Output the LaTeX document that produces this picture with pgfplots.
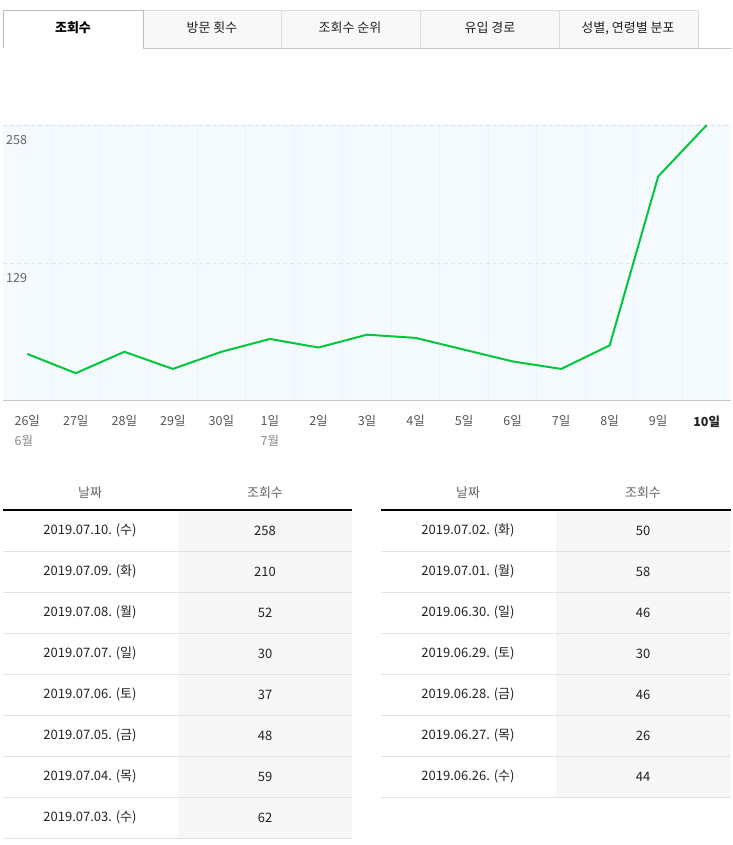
\documentclass[border=0pt]{standalone}
\usepackage{fontspec}
\setmainfont{Noto Sans CJK KR}
\usepackage{pgfplots}
\pgfplotsset{compat=1.18}
\definecolor{linegreen}{HTML}{00C73C}
\definecolor{bgblue}{HTML}{F5FAFE}
\definecolor{vgrid}{HTML}{EAF3FB}
\definecolor{hgrid}{HTML}{DCE6EE}
\definecolor{axisgray}{HTML}{C8C8C8}
\definecolor{tickgray}{HTML}{555555}
\definecolor{monthgray}{HTML}{888888}
\definecolor{tabgray}{HTML}{F8F8F8}
\definecolor{tabborder}{HTML}{DCDCDC}
\definecolor{cellgray}{HTML}{F7F7F7}
\definecolor{rowline}{HTML}{E3E3E3}
\definecolor{headgray}{HTML}{666666}
\definecolor{txt}{HTML}{222222}
\newcommand{\fs}[1]{\fontsize{#1}{20}\selectfont}
\begin{document}
\begin{tikzpicture}[x=1pt,y=1pt]
\useasboundingbox (0,0) rectangle (732,845);
% tabs
\begin{scope}[shift={(0,845)},y=-1pt]
\fill[tabgray] (143,10) rectangle (698,48);
\foreach \a/\b in {143/281,281/420,420/559,559/698}{
  \draw[tabborder] (\a,48) -- (\a,10) -- (\b,10) -- (\b,48);
}
\draw[axisgray] (143,48) -- (732,48);
\draw[axisgray!120] (3,48) -- (3,10) -- (143,10) -- (143,48);
\node[font=\fs{13}\bfseries, text=black] at (73,28) {조회수};
\node[font=\fs{13}, text=txt] at (212,28) {방문 횟수};
\node[font=\fs{13}, text=txt] at (350,28) {조회수 순위};
\node[font=\fs{13}, text=txt] at (490,28) {유입 경로};
\node[font=\fs{13}, text=txt] at (628,28) {성별, 연령별 분포};
% table headers
\foreach \x/\t in {90/날짜,265/조회수,468/날짜,643/조회수}{
  \node[font=\fs{13}, text=headgray] at (\x,493) {\t};
}
\fill[cellgray] (178,510) rectangle (352,838);
\fill[cellgray] (556,510) rectangle (731,797);
\draw[black, line width=2pt] (3,510) -- (352,510);
\draw[black, line width=2pt] (381,510) -- (731,510);
\foreach \i in {0,...,7}{ \draw[rowline] (3,551+41*\i) -- (352,551+41*\i); }
\foreach \i in {0,...,6}{ \draw[rowline] (381,551+41*\i) -- (731,551+41*\i); }
\foreach \d/\v [count=\i from 0] in {{2019.07.10. (수)}/258,{2019.07.09. (화)}/210,{2019.07.08. (월)}/52,{2019.07.07. (일)}/30,{2019.07.06. (토)}/37,{2019.07.05. (금)}/48,{2019.07.04. (목)}/59,{2019.07.03. (수)}/62}{
  \node[font=\fs{13}, text=txt] at (90,530.5+41*\i) {\d};
  \node[font=\fs{13}, text=txt] at (265,530.5+41*\i) {\v};
}
\foreach \d/\v [count=\i from 0] in {{2019.07.02. (화)}/50,{2019.07.01. (월)}/58,{2019.06.30. (일)}/46,{2019.06.29. (토)}/30,{2019.06.28. (금)}/46,{2019.06.27. (목)}/26,{2019.06.26. (수)}/44}{
  \node[font=\fs{13}, text=txt] at (468,530.5+41*\i) {\d};
  \node[font=\fs{13}, text=txt] at (643,530.5+41*\i) {\v};
}
\end{scope}
\begin{axis}[
  at={(3pt,444pt)}, anchor=south west,
  scale only axis, width=728pt, height=277pt,
  xmin=-0.5, xmax=14.5, ymin=0, ymax=259,
  axis background/.style={fill=bgblue},
  axis x line=bottom, axis y line=left,
  axis line style={-},
  y axis line style={draw=none},
  x axis line style={draw=axisgray, line width=1pt},
  clip=false,
  major tick length=0pt, minor tick length=0pt,
  xtick={0,...,14},
  xticklabels={{26일\\\textcolor{monthgray}{6월}},27일,28일,29일,30일,{1일\\\textcolor{monthgray}{7월}},2일,3일,4일,5일,6일,7일,8일,9일,{\textcolor{txt}{\bfseries 10일}}},
  minor xtick={0.5,1.5,...,13.5},
  xminorgrids, minor x grid style={draw=vgrid, line width=1pt},
  ytick={129,258}, yticklabels={129,258},
  ymajorgrids, major y grid style={dashed, dash pattern=on 4pt off 3pt, draw=hgrid, line width=1pt},
  /pgf/number format/assume math mode=true,
  xticklabel style={font=\fs{12.5}, text=tickgray, align=left, anchor=north, yshift=-11pt},
  yticklabel style={font=\fs{12.5}, text=headgray, anchor=north west, inner sep=0pt, xshift=3pt, yshift=-10pt},
]
\addplot[linegreen, line width=2pt, mark=none] coordinates {
(0,44) (1,26) (2,46) (3,30) (4,46) (5,58) (6,50) (7,62) (8,59) (9,48) (10,37) (11,30) (12,52) (13,210) (14,258)};
\end{axis}
\end{tikzpicture}
\end{document}
